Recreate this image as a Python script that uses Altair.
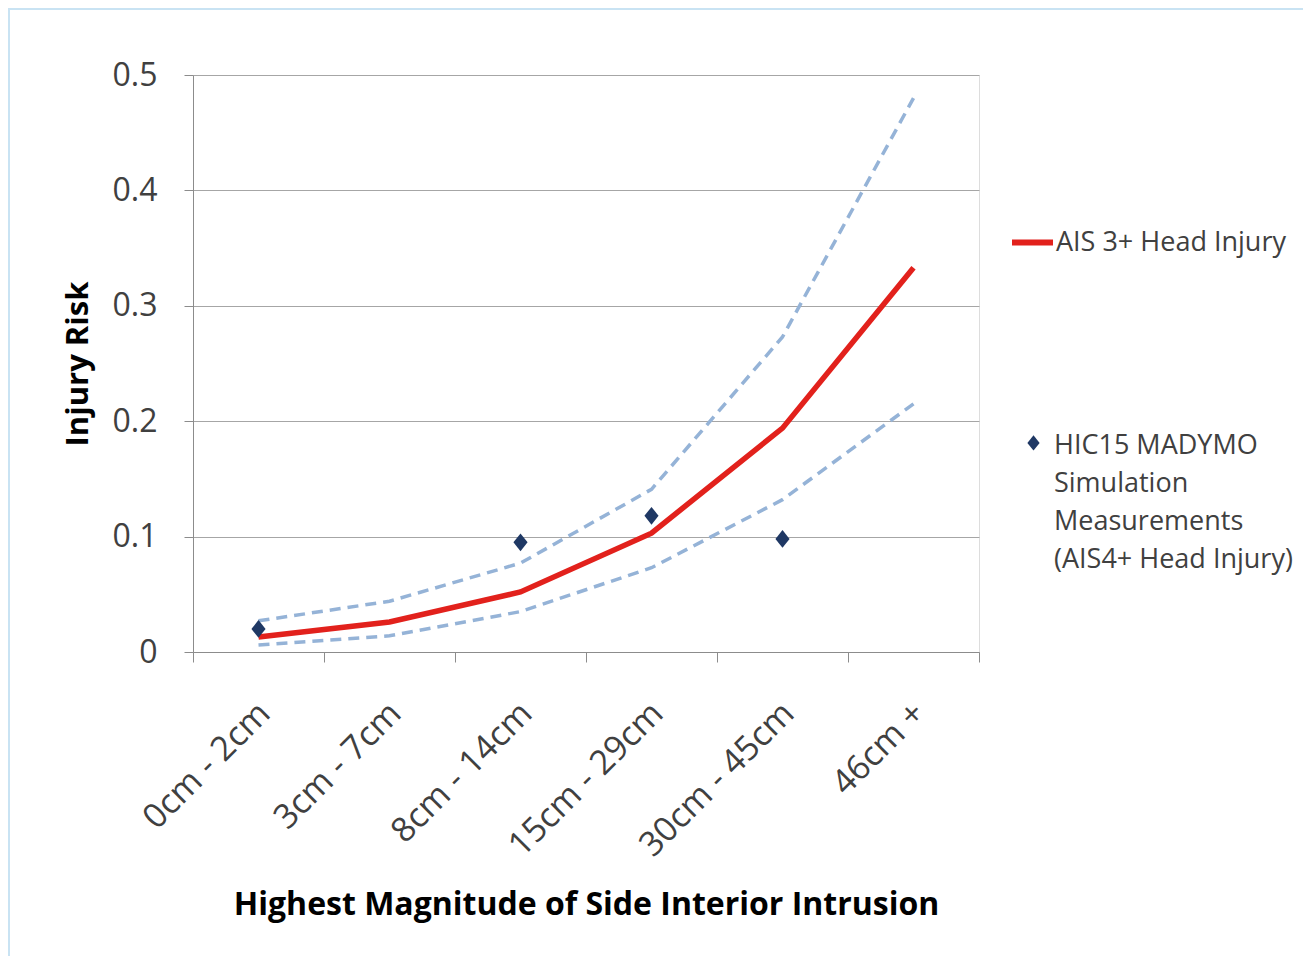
import altair as alt
import pandas as pd

categories = ["0cm - 2cm", "3cm - 7cm", "8cm - 14cm", "15cm - 29cm", "30cm - 45cm", "46cm +"]
risk = [0.013, 0.026, 0.052, 0.103, 0.194, 0.333]
upper = [0.027, 0.044, 0.077, 0.141, 0.273, 0.480]
lower = [0.006, 0.014, 0.035, 0.073, 0.132, 0.215]
hic_categories = ["0cm - 2cm", "8cm - 14cm", "15cm - 29cm", "30cm - 45cm"]
hic_values = [0.020, 0.095, 0.118, 0.098]

line_name = "AIS 3+ Head Injury"
hic_name = "HIC15 MADYMO Simulation Measurements (AIS4+ Head Injury)"
y_ticks = [0, 0.1, 0.2, 0.3, 0.4, 0.5]

RED = "#e2211c"
BLUE = "#95b3d7"
NAVY = "#1f3864"
GRAY_TXT = "#404040"
FONT = "Open Sans"
DIAMOND = "M0,-1.25L1,0L0,1.25L-1,0Z"
LEGEND_DIAMOND = "M0,0.45L1,1.7L0,2.95L-1,1.7Z"

df_line = pd.DataFrame({"cat": categories, "risk": risk, "series": line_name})
df_bounds = pd.concat([
    pd.DataFrame({"cat": categories, "risk": upper, "bound": "upper"}),
    pd.DataFrame({"cat": categories, "risk": lower, "bound": "lower"}),
])
df_hic = pd.DataFrame({"cat": hic_categories, "risk": hic_values, "hseries": hic_name})

x_enc = alt.X(
    "cat:O",
    sort=categories,
    scale=alt.Scale(type="band", domain=categories, paddingInner=0, paddingOuter=0),
    axis=alt.Axis(
        title="Highest Magnitude of Side Interior Intrusion",
        titleFontSize=32, titleFontWeight="bold", titleColor="#000000", titleFont=FONT,
        titlePadding=37,
        labelAngle=-45, labelAlign="right", labelBaseline="middle",
        labelFontSize=34, labelColor=GRAY_TXT, labelFont=FONT,
        labelPadding=46, labelOffset=6, labelLimit=400,
        tickBand="extent", tickSize=10, tickColor="#8c8c8c",
        domainColor="#8c8c8c", grid=False,
    ),
)
y_enc = alt.Y(
    "risk:Q",
    scale=alt.Scale(domain=[0, 0.5], nice=False),
    axis=alt.Axis(
        title="Injury Risk", titleFontSize=31, titleFontWeight="bold", titleColor="#000000",
        titleFont=FONT, titlePadding=18,
        values=y_ticks,
        labelExpr="datum.value == 0 ? '0' : format(datum.value, '.1f')",
        labelFontSize=32, labelColor=GRAY_TXT, labelFont=FONT, labelPadding=27,
        tickSize=9, tickColor="#8c8c8c", domainColor="#8c8c8c",
        gridColor="#a6a6a6", grid=True,
    ),
)

bounds = alt.Chart(df_bounds).mark_line(
    strokeWidth=3.5, strokeDash=[11, 7], color=BLUE
).encode(x=x_enc, y=y_enc, detail="bound:N")

main = alt.Chart(df_line).mark_line(strokeWidth=5.5).encode(
    x=x_enc, y=y_enc,
    color=alt.Color(
        "series:N",
        scale=alt.Scale(domain=[line_name], range=[RED]),
        legend=alt.Legend(
            title=None, orient="none", legendX=816, legendY=144,
            symbolType="stroke", symbolStrokeWidth=6, symbolSize=1681,
            labelFontSize=27, labelColor=GRAY_TXT, labelFont=FONT, labelOffset=0,
            padding=0, labelLimit=400,
        ),
    ),
)

points = alt.Chart(df_hic).mark_point(filled=True, shape=DIAMOND, size=200, opacity=1).encode(
    x=x_enc, y=y_enc,
    color=alt.Color(
        "hseries:N",
        scale=alt.Scale(domain=[hic_name], range=[NAVY]),
        legend=alt.Legend(
            title=None, orient="none", legendX=827, legendY=344,
            symbolType=LEGEND_DIAMOND, symbolSize=150,
            labelFontSize=27, labelColor=GRAY_TXT, labelFont=FONT, labelOffset=7,
            labelBaseline="top",
            labelExpr="['HIC15 MADYMO', 'Simulation', 'Measurements', '(AIS4+ Head Injury)']",
            padding=0, labelLimit=400,
        ),
    ),
)

frame = alt.Chart(pd.DataFrame({"k": [0]})).mark_rect(
    fill=None, stroke="#c9e3f3", strokeWidth=2, clip=False
).encode(
    x=alt.value(-184), x2=alt.value(1300), y=alt.value(-66), y2=alt.value(1000)
)

chart = alt.layer(frame, bounds, main, points).resolve_scale(
    color="independent"
).resolve_legend(color="independent").properties(
    width=786, height=577,
    autosize=alt.AutoSizeParams(type="none"),
    padding={"left": 185, "top": 67, "right": 324, "bottom": 304},
).configure_view(stroke="#8c8c8c", strokeWidth=1).configure(
    background="white",
    style={"guide-label": {"lineHeight": 38}},
)

chart.save("out.html", embed_options={"renderer": "svg", "actions": False})
